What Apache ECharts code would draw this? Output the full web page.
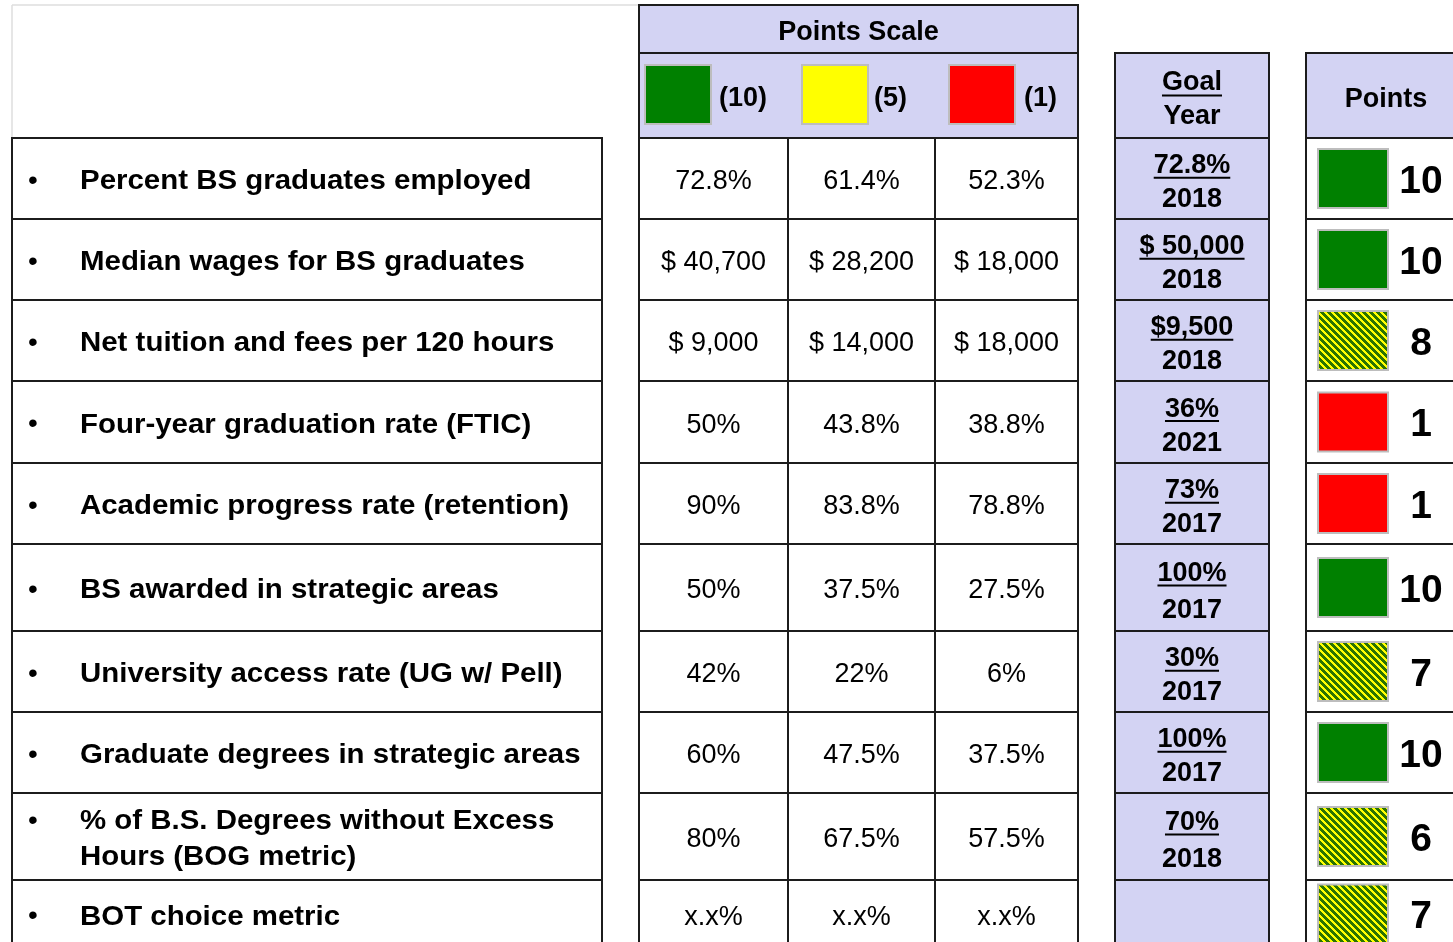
<!DOCTYPE html>
<html><head><meta charset="utf-8">
<script src="https://cdn.jsdelivr.net/npm/echarts@6/dist/echarts.min.js"></script>
<style>html,body{margin:0;padding:0;background:#fff}#c{width:1453px;height:942px}</style>
</head><body><div id="c"></div>
<script>
// ---------- DATA ----------
const categories = [
  'Percent BS graduates employed',
  'Median wages for BS graduates',
  'Net tuition and fees per 120 hours',
  'Four-year graduation rate (FTIC)',
  'Academic progress rate (retention)',
  'BS awarded in strategic areas',
  'University access rate (UG w/ Pell)',
  'Graduate degrees in strategic areas',
  '% of B.S. Degrees without Excess\nHours (BOG metric)',
  'BOT choice metric'
];
const level10 = ['72.8%','$ 40,700','$ 9,000','50%','90%','50%','42%','60%','80%','x.x%'];
const level5  = ['61.4%','$ 28,200','$ 14,000','43.8%','83.8%','37.5%','22%','47.5%','67.5%','x.x%'];
const level1  = ['52.3%','$ 18,000','$ 18,000','38.8%','78.8%','27.5%','6%','37.5%','57.5%','x.x%'];
const goalValues = ['72.8%','$ 50,000','$9,500','36%','73%','100%','30%','100%','70%',''];
const goalYears  = ['2018','2018','2018','2021','2017','2017','2017','2017','2018',''];
const points = [10,10,8,1,1,10,7,10,6,7];
const scaleLevels = ['(10)','(5)','(1)'];
const scaleHeader = 'Points Scale';
const goalHeader = ['Goal','Year'];
const pointsHeader = 'Points';

// ---------- LAYOUT / STYLE ----------
const L = {
  W: 1453, H: 942,
  rowEdges: [138,219,300,381,463,544,631,712,793,880,948],
  labelBox: [12,602], bulletX: 33, labelX: 80, labelScaleX: 1.09,
  scaleCols: [639,788,935,1078],
  goalBox: [1115,1269],
  ptsBox: [1306,1466],
  scaleTop: 5, headMid: 53, headBottom: 138,
  swatchX: [645,802,949], swatchW: 66, swatchH: 59, swatchLabelX: [719,874,1024],
  ptSwatchX: 1318, ptSwatchW: 70, ptSwatchH: 59, ptTextX: 1421,
  dy: 3.5
};
const C = {
  border: '#1c1c1c', head: '#d3d3f3', green: '#008000', yellow: '#ffff00', red: '#ff0000',
  swatchStroke: '#bdbdbd', frame: '#dedede', text: '#000'
};
const FONT = '"Liberation Sans", Arial, sans-serif';
const fBold = 'bold 27px ' + FONT, fReg = '27px ' + FONT, fPts = 'bold 39px ' + FONT;

// hatch pattern
const hatch = document.createElement('canvas');
(function () {
  const P = 7; hatch.width = P; hatch.height = P;
  const ctx = hatch.getContext('2d');
  const img = ctx.createImageData(P, P);
  for (let y = 0; y < P; y++) for (let x = 0; x < P; x++) {
    const g = ((x - y) % P + P) % P < 4;
    const k = (y * P + x) * 4;
    img.data[k] = g ? 0x2a : 255; img.data[k+1] = g ? 0x73 : 255; img.data[k+2] = 0; img.data[k+3] = 255;
  }
  ctx.putImageData(img, 0, 0);
})();
const measure = document.createElement('canvas').getContext('2d');
function textW(t, f) { measure.font = f; return measure.measureText(t).width; }
function ptFill(p) { return p >= 10 ? C.green : (p <= 1 ? C.red : { image: hatch, repeat: 'repeat' }); }

function line(api, x1, y1, x2, y2, color, w) {
  const a = api.coord([x1, y1]), b = api.coord([x2, y2]);
  return { type: 'line', shape: { x1: a[0], y1: a[1], x2: b[0], y2: b[1] }, style: { stroke: color || C.border, lineWidth: w || 2 } };
}
function rect(api, x, y, w, h, fill, stroke, lw) {
  const a = api.coord([x, y]), b = api.coord([x + w, y + h]);
  return { type: 'rect', shape: { x: a[0], y: a[1], width: b[0] - a[0], height: b[1] - a[1] },
    style: { fill: fill, stroke: stroke || null, lineWidth: lw || 0 } };
}
function text(api, t, x, y, font, align, extra, sx) {
  const p = api.coord([x, y + L.dy]);
  return { type: 'text', x: p[0], y: p[1], scaleX: sx || 1,
    style: Object.assign({ text: t, x: 0, y: 0, font: font, fill: C.text,
    align: align || 'center', verticalAlign: 'middle' }, extra || {}) };
}
function underline(api, t, cx, y, font) {
  const w = textW(t, font);
  return line(api, cx - w / 2, y + L.dy, cx + w / 2, y + L.dy, '#000', 2);
}

function renderHeader(params, api) {
  const ch = [];
  const s0 = L.scaleCols[0], s3 = L.scaleCols[3];
  ch.push(line(api, L.labelBox[0], L.scaleTop, s0, L.scaleTop, C.frame, 1.5));
  ch.push(line(api, L.labelBox[0], L.scaleTop, L.labelBox[0], L.headBottom, C.frame, 1.5));
  ch.push(rect(api, s0, L.scaleTop, s3 - s0, L.headBottom - L.scaleTop, C.head, C.border, 2));
  ch.push(line(api, s0, L.headMid, s3, L.headMid));
  ch.push(text(api, scaleHeader, (s0 + s3) / 2, (L.scaleTop + L.headMid) / 2, fBold));
  const legCols = [C.green, C.yellow, C.red];
  const ly = (L.headMid + L.headBottom) / 2;
  scaleLevels.forEach((lab, i) => {
    ch.push(rect(api, L.swatchX[i], ly - L.swatchH / 2 - 1, L.swatchW, L.swatchH, legCols[i], C.swatchStroke, 2));
    ch.push(text(api, lab, L.swatchLabelX[i], ly, fBold, 'left'));
  });
  const g0 = L.goalBox[0], g1 = L.goalBox[1], gc = (g0 + g1) / 2;
  ch.push(rect(api, g0, L.headMid, g1 - g0, L.headBottom - L.headMid, C.head, C.border, 2));
  ch.push(text(api, goalHeader[0], gc, 79, fBold));
  ch.push(underline(api, goalHeader[0], gc, 92, fBold));
  ch.push(text(api, goalHeader[1], gc, 113, fBold));
  const p0 = L.ptsBox[0], p1 = L.ptsBox[1];
  ch.push(rect(api, p0, L.headMid, p1 - p0, L.headBottom - L.headMid, C.head, C.border, 2));
  ch.push(text(api, pointsHeader, (p0 + p1) / 2, 96, fBold));
  return { type: 'group', children: ch };
}

function renderRow(params, api) {
  const i = params.dataIndex;
  const top = L.rowEdges[i], bot = L.rowEdges[i + 1], h = bot - top, cy = (top + bot) / 2;
  const ch = [];
  ch.push(rect(api, L.labelBox[0], top, L.labelBox[1] - L.labelBox[0], h, '#fff', C.border, 2));
  const two = categories[i].indexOf('\n') >= 0;
  ch.push(text(api, '\u2022', L.bulletX, cy - 1 + (two ? -18 : 0), '28px ' + FONT));
  ch.push(text(api, categories[i], L.labelX, cy, fBold, 'left', { lineHeight: 36 }, L.labelScaleX));
  const vals = [level10[i], level5[i], level1[i]];
  for (let k = 0; k < 3; k++) {
    const x0 = L.scaleCols[k], x1 = L.scaleCols[k + 1];
    ch.push(rect(api, x0, top, x1 - x0, h, '#fff', C.border, 2));
    ch.push(text(api, vals[k], (x0 + x1) / 2, cy, fReg));
  }
  const g0 = L.goalBox[0], g1 = L.goalBox[1], gc = (g0 + g1) / 2;
  ch.push(rect(api, g0, top, g1 - g0, h, C.head, C.border, 2));
  if (goalValues[i]) {
    const vy = cy - h * 0.2, yy = cy + h * 0.22;
    ch.push(text(api, goalValues[i], gc, vy, fBold));
    ch.push(underline(api, goalValues[i], gc, vy + 12, fBold));
    ch.push(text(api, goalYears[i], gc, yy, fBold));
  }
  const p0 = L.ptsBox[0], p1 = L.ptsBox[1];
  ch.push(rect(api, p0, top, p1 - p0, h, '#fff', C.border, 2));
  ch.push(rect(api, L.ptSwatchX, cy - L.ptSwatchH / 2, L.ptSwatchW, L.ptSwatchH, ptFill(points[i]), C.swatchStroke, 2));
  ch.push(text(api, String(points[i]), L.ptTextX, cy, fPts));
  return { type: 'group', children: ch };
}

const chart = echarts.init(document.getElementById('c'), null, { renderer: 'canvas' });
chart.setOption({
  animation: false,
  backgroundColor: '#fff',
  grid: { left: 0, right: 0, top: 0, bottom: 0 },
  xAxis: { type: 'value', min: 0, max: L.W, show: false },
  yAxis: { type: 'value', min: 0, max: L.H, inverse: true, show: false },
  series: [
    { type: 'custom', clip: false, renderItem: renderHeader, data: [[0, 0]], silent: true },
    { type: 'custom', clip: false, renderItem: renderRow, silent: true,
      data: categories.map((c, i) => [i, i]) }
  ]
});
</script></body></html>
